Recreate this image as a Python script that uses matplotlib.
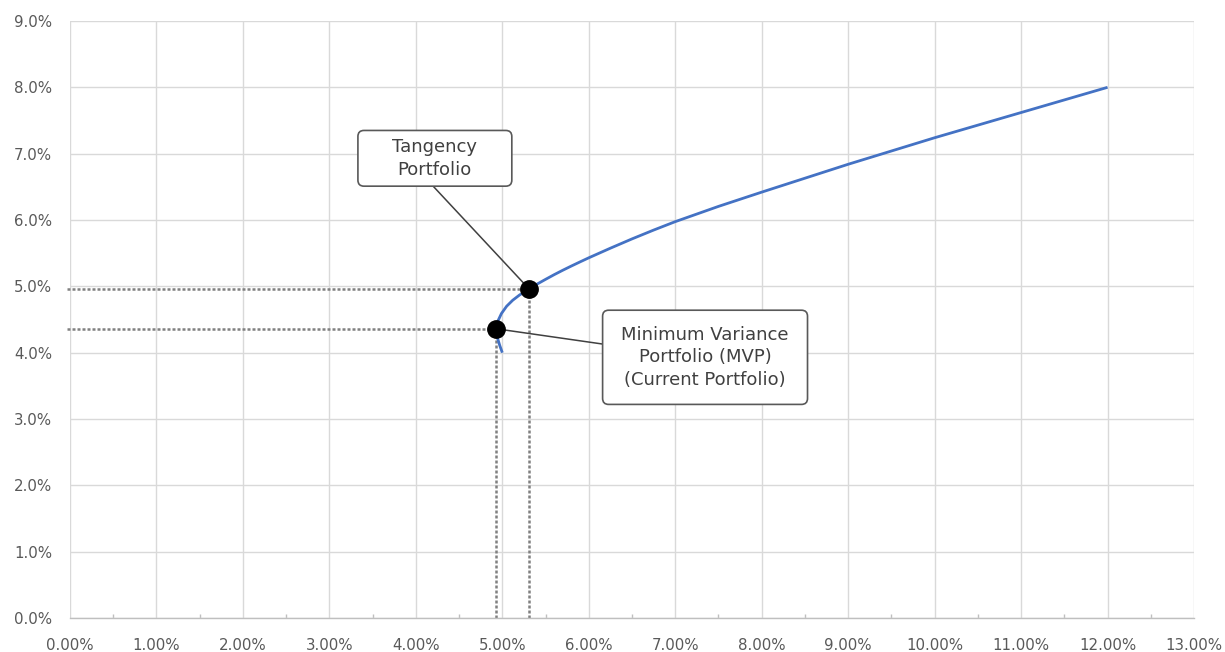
import numpy as np
import matplotlib.pyplot as plt
from matplotlib.patches import FancyBboxPatch
from matplotlib.ticker import FuncFormatter, MultipleLocator

# efficient frontier (x = risk %, y = return %)
risk = [5.00, 4.97, 4.94, 4.93, 4.95, 4.99, 5.05, 5.12, 5.20, 5.31, 5.40, 5.50,
        5.60, 5.70, 5.80, 5.90, 6.00, 6.25, 6.50, 6.75, 7.00, 7.50, 8.00, 8.50,
        9.00, 9.50, 10.00, 10.50, 11.00, 11.50, 12.00]
ret = [4.00, 4.11, 4.24, 4.36, 4.48, 4.59, 4.70, 4.79, 4.87, 4.96, 5.032, 5.105,
       5.176, 5.243, 5.307, 5.369, 5.43, 5.575, 5.715, 5.848, 5.975, 6.205, 6.42, 6.63,
       6.84, 7.04, 7.24, 7.43, 7.62, 7.81, 8.00]

tangency = (5.31, 4.96)
mvp = (4.93, 4.36)

fig = plt.figure(figsize=(12.25, 6.52), dpi=100)
ax = fig.add_axes([70/1225, 1-618/652, 1124/1225, 597/652])
ax.set_xlim(0, 13)
ax.set_ylim(0, 9)

ax.xaxis.set_major_locator(MultipleLocator(1))
ax.xaxis.set_minor_locator(MultipleLocator(0.5))
ax.yaxis.set_major_locator(MultipleLocator(1))
ax.xaxis.set_major_formatter(FuncFormatter(lambda v, p: f"{v:.2f}%"))
ax.yaxis.set_major_formatter(FuncFormatter(lambda v, p: f"{v:.1f}%"))
ax.tick_params(axis='both', which='major', length=0, labelsize=10.8, labelcolor='#595959')
ax.tick_params(axis='x', which='major', pad=14.5)
ax.tick_params(axis='y', which='major', pad=13)
ax.tick_params(axis='x', which='minor', direction='in', length=3, width=1, color='#bfbfbf')
ax.grid(True, which='major', color='#d9d9d9', lw=1)
ax.set_axisbelow(True)
for s in ['top', 'right', 'left']:
    ax.spines[s].set_visible(False)
ax.spines['bottom'].set_color('#bfbfbf')
ax.spines['bottom'].set_linewidth(1)

# dotted guide lines
for px, py in [tangency, mvp]:
    ax.plot([-0.03, px], [py, py], color='#808080', lw=1.8, ls=(0, (1.2, 0.8)), clip_on=False, zorder=2)
    ax.plot([px, px], [0, py], color='#808080', lw=1.8, ls=(0, (1.2, 0.8)), zorder=2)

ax.plot(risk, ret, color='#4472c4', lw=2, zorder=3, solid_capstyle='butt', solid_joinstyle='round')

# callout boxes
a = 86.5 / 66.4
boxes = [((3.33, 6.51), 1.78, 0.84, "Tangency\nPortfolio", (4.20, 6.51), tangency),
         ((6.16, 3.22), 2.37, 1.42, "Minimum Variance\nPortfolio (MVP)\n(Current Portfolio)", (6.16, 4.13), mvp)]
for (bx, by), bw, bh, txt, anchor, pt in boxes:
    ax.plot([anchor[0], pt[0]], [anchor[1], pt[1]], color='#404040', lw=1.1, zorder=4)
    box = FancyBboxPatch((bx, by), bw, bh, boxstyle="round,pad=0,rounding_size=0.07",
                         mutation_aspect=a, fc='white', ec='#595959', lw=1.2, zorder=5)
    ax.add_patch(box)
    ax.text(bx + bw/2, by + bh/2, txt, ha='center', va='center', fontsize=13,
            color='#404040', linespacing=1.33, zorder=6)

ax.plot([tangency[0], mvp[0]], [tangency[1], mvp[1]], 'o', color='black', ms=12.5, zorder=5)

fig.savefig("out.png", dpi=100)
